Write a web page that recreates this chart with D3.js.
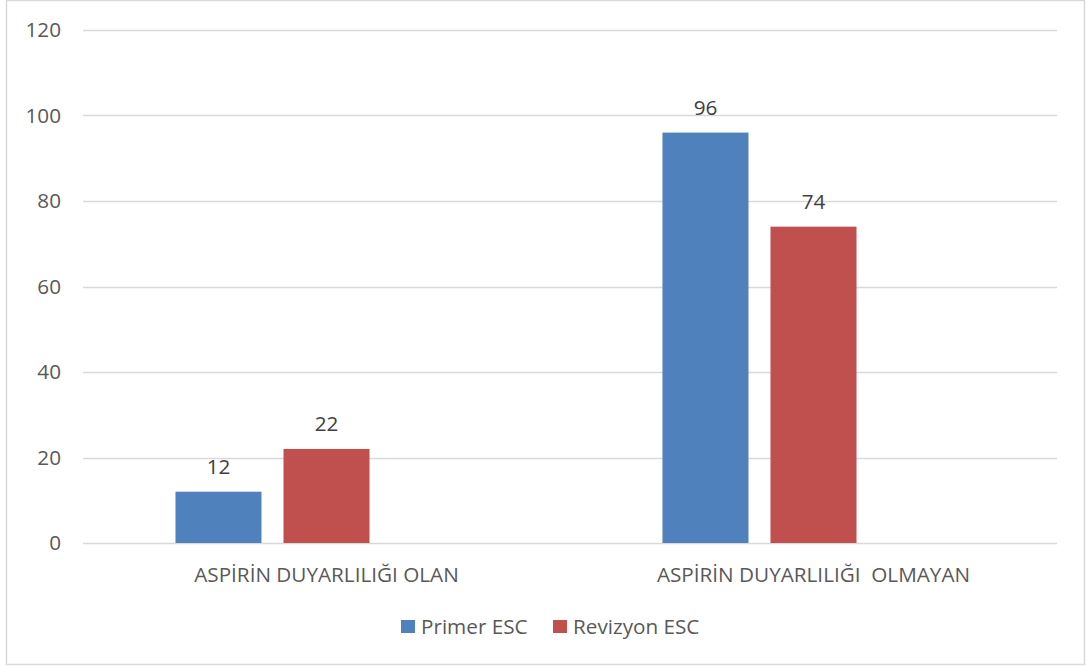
<!DOCTYPE html>
<html><head><meta charset="utf-8">
<script src="https://cdn.jsdelivr.net/npm/d3@7"></script>
<style>body{margin:0;background:#fff}svg{display:block}</style>
</head><body>
<script>
const categories = ["ASPİRİN DUYARLILIĞI OLAN", "ASPİRİN DUYARLILIĞI  OLMAYAN"];
const seriesNames = ["Primer ESC", "Revizyon ESC"];
const primerESC = [12, 96];
const revizyonESC = [22, 74];
const yTicks = [0, 20, 40, 60, 80, 100, 120];
const colors = ["#4F81BD", "#C0504D"];

const W = 1088, H = 666;
const svg = d3.select("body").append("svg").attr("width", W).attr("height", H);
svg.append("rect").attr("x", 6.5).attr("y", 0.5).attr("width", 1078).attr("height", 664)
  .attr("fill", "#fff").attr("stroke", "#d9d9d9").attr("stroke-width", 1.5);

const font = "'Open Sans', sans-serif";
const txt = "#595959";
const fs = 20.7;
const x0 = d3.scaleBand().domain(categories).range([83, 1057]);
// Excel layout reserves three bar slots per category (third is empty)
const slots = [...seriesNames, "_empty"];
const x1 = d3.scaleBand().domain(slots).range([0, x0.bandwidth()]).paddingInner(0.2037).paddingOuter(0.856);
const y = d3.scaleLinear().domain([0, 120]).range([543, 30]);

svg.append("g").selectAll("line").data(yTicks).join("line")
  .attr("x1", 83).attr("x2", 1057).attr("y1", d => Math.round(y(d)) + 0.5).attr("y2", d => Math.round(y(d)) + 0.5)
  .attr("stroke", "#d9d9d9").attr("stroke-width", 1.5);

svg.append("g").selectAll("text").data(yTicks).join("text")
  .attr("x", 61).attr("y", d => y(d)).attr("dy", "0.36em").attr("text-anchor", "end")
  .attr("font-family", font).attr("font-size", fs).attr("fill", txt).text(d => d);

const data = categories.map((c, i) => ({cat: c, vals: [primerESC[i], revizyonESC[i]]}));
const g = svg.append("g").selectAll("g").data(data).join("g")
  .attr("transform", d => `translate(${x0(d.cat)},0)`);
const bars = g.selectAll("g.b").data(d => d.vals.map((v, j) => ({s: seriesNames[j], v, j}))).join("g").attr("class", "b");
bars.append("rect").attr("x", d => x1(d.s)).attr("width", x1.bandwidth())
  .attr("y", d => y(d.v)).attr("height", d => y(0) - y(d.v)).attr("fill", d => colors[d.j]);
bars.append("text").attr("x", d => x1(d.s) + x1.bandwidth() / 2).attr("y", d => y(d.v) - 18)
  .attr("text-anchor", "middle").attr("font-family", font).attr("font-size", fs).attr("fill", "#404040").text(d => d.v);

svg.append("g").selectAll("text").data(categories).join("text")
  .attr("x", d => x0(d) + x0.bandwidth() / 2).attr("y", 582).attr("text-anchor", "middle")
  .attr("font-family", font).attr("font-size", fs).attr("fill", txt).attr("xml:space", "preserve")
  .style("white-space", "pre").text(d => d);

const leg = svg.append("g");
const legX = [401, 553];
seriesNames.forEach((s, i) => {
  leg.append("rect").attr("x", legX[i]).attr("y", 620).attr("width", 14).attr("height", 13).attr("fill", colors[i]);
  leg.append("text").attr("x", legX[i] + 20).attr("y", 634).attr("font-family", font).attr("font-size", fs)
    .attr("fill", txt).text(s);
});
</script>
</body></html>
